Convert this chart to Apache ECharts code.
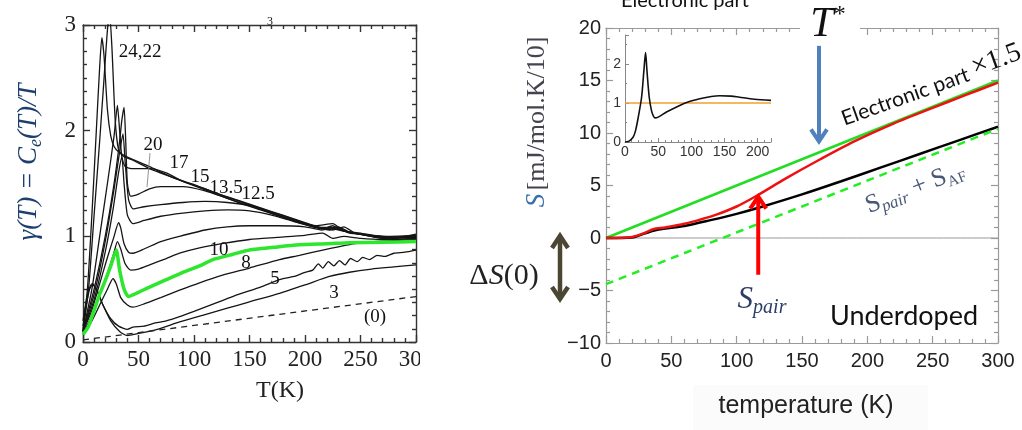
<!DOCTYPE html>
<html><head><meta charset="utf-8">
<script src="https://cdn.jsdelivr.net/npm/echarts@6/dist/echarts.min.js"></script>
<style>html,body{margin:0;padding:0;background:#fff}#c{width:1022px;height:430px}</style>
</head><body><div id="c"></div>
<script>
// ---------- Left panel: gamma(T) = Ce(T)/T curves, [T(K), gamma] ----------
const g24 = [[0,0.12],[4,0.5],[8,1.2],[12,2.0],[15,2.6],[17,2.88],[19,2.7],[22,2.2],[25,1.95],[28,1.85],[32,1.8],[40,1.75],[60,1.66],[80,1.56],[100,1.49],[120,1.41],[140,1.34],[160,1.27],[180,1.2],[200,1.13],[215,1.08],[225,1.07],[235,1.05],[250,1.02],[270,0.98],[285,0.99],[300,1.02]];
const g22 = [[0,0.1],[5,0.5],[10,1.2],[15,1.9],[19,2.5],[22,2.95],[24,3.1],[26,2.8],[29,2.1],[32,1.82],[36,1.76],[45,1.72],[60,1.64],[80,1.56],[100,1.48],[120,1.4],[140,1.32],[160,1.25],[180,1.18],[200,1.11],[215,1.07],[225,1.1],[232,1.06],[245,1.03],[260,1.0],[280,0.98],[300,1.0]];
const g20 = [[0,0.1],[8,0.5],[15,1.0],[22,1.5],[28,1.95],[31,2.24],[33,2.0],[35,1.75],[38,1.66],[45,1.64],[60,1.64],[75,1.6],[90,1.52],[110,1.45],[130,1.37],[150,1.3],[170,1.23],[190,1.16],[210,1.09],[222,1.06],[230,1.09],[240,1.04],[255,1.01],[270,0.99],[300,1.0]];
const g17 = [[0,0.1],[10,0.5],[20,1.0],[28,1.5],[33,1.9],[35,2.1],[37,2.22],[38.5,1.9],[40,1.5],[43,1.38],[50,1.4],[60,1.45],[70,1.47],[90,1.47],[110,1.43],[130,1.36],[150,1.29],[170,1.22],[190,1.15],[210,1.1],[225,1.12],[235,1.05],[250,1.03],[265,0.99],[280,0.97],[300,0.98]];
const g15 = [[0,0.1],[10,0.45],[20,0.95],[28,1.45],[33,1.8],[36,1.97],[38,1.7],[41,1.35],[45,1.26],[55,1.28],[70,1.3],[90,1.32],[110,1.33],[130,1.32],[150,1.29],[170,1.22],[190,1.15],[210,1.09],[225,1.08],[235,1.05],[250,1.02],[270,1.0],[300,0.99]];
const g135 = [[0,0.1],[10,0.4],[20,0.85],[27,1.25],[32,1.6],[35,1.75],[37,1.5],[40,1.2],[45,1.12],[55,1.15],[70,1.19],[90,1.22],[110,1.24],[130,1.25],[150,1.24],[170,1.2],[190,1.14],[205,1.1],[215,1.08],[225,1.06],[235,1.09],[245,1.03],[260,1.01],[280,0.99],[300,1.0]];
const g125 = [[0,0.1],[8,0.3],[15,0.55],[22,0.8],[28,1.0],[32,1.13],[34,1.08],[37,0.93],[41,0.85],[45,0.84],[55,0.88],[70,0.95],[87,1.0],[110,1.06],[130,1.09],[150,1.1],[175,1.1],[200,1.09],[215,1.06],[228,1.09],[240,1.03],[255,1.02],[270,1.0],[300,1.01]];
const g10 = [[0,0.08],[8,0.25],[15,0.45],[22,0.65],[28,0.85],[31,0.95],[34,0.88],[38,0.74],[43,0.68],[50,0.69],[60,0.73],[75,0.79],[87,0.84],[105,0.89],[125,0.93],[150,0.97],[175,0.99],[200,1.01],[216,1.03],[225,0.98],[235,1.0],[250,0.98],[270,0.97],[300,0.98]];
const g8 = [[0,0.07],[8,0.2],[15,0.35],[22,0.5],[27,0.6],[30,0.55],[34,0.42],[40,0.35],[45,0.33],[55,0.36],[70,0.42],[87,0.49],[105,0.56],[125,0.63],[150,0.7],[177,0.78],[195,0.82],[216,0.87],[230,0.9],[245,0.93],[260,0.95],[280,0.96],[300,0.97]];
const g5 = [[0,0.15],[3,0.35],[6,0.5],[9,0.55],[13,0.48],[18,0.35],[25,0.22],[32,0.15],[40,0.12],[45,0.14],[55,0.15],[65,0.18],[75,0.2],[87,0.24],[100,0.29],[120,0.37],[140,0.45],[160,0.52],[177,0.59],[190,0.62],[200,0.66],[207,0.68],[212,0.74],[216,0.7],[221,0.76],[226,0.72],[231,0.77],[236,0.73],[241,0.79],[247,0.76],[252,0.8],[258,0.78],[265,0.82],[272,0.81],[280,0.84],[290,0.85],[300,0.87]];
const g3 = [[0,0.2],[4,0.45],[8,0.55],[12,0.5],[18,0.35],[25,0.2],[33,0.1],[40,0.06],[45,0.07],[55,0.09],[70,0.13],[87,0.19],[110,0.26],[130,0.32],[150,0.38],[177,0.46],[200,0.54],[222,0.62],[240,0.66],[260,0.69],[280,0.71],[300,0.73]];
const g0 = [[0,0.02],[300,0.43]];
const gGreen = [[0,0.07],[5,0.15],[10,0.3],[15,0.45],[20,0.58],[25,0.72],[30,0.87],[33,0.68],[37,0.5],[41,0.43],[50,0.47],[60,0.52],[75,0.59],[90,0.66],[105,0.72],[117,0.78],[135,0.83],[150,0.87],[175,0.9],[195,0.92],[220,0.93],[240,0.94],[270,0.945],[300,0.95]];
const leftXTicks = [0, 50, 100, 150, 200, 250, 300];
const leftYTicks = [0, 1, 2, 3];

// ---------- Right panel: entropy S(T), [T(K), S] ----------
const sElectronic = [[0,0],[300,15]];
const sTotal = [[0,0],[20,0.1],[30,0.5],[36,0.83],[45,1.0],[60,1.35],[72,1.75],[85,2.25],[100,3.0],[115,4.0],[138,5.7],[164,7.5],[190,9.2],[220,10.9],[250,12.4],[275,13.6],[300,14.8]];
const sPairAF = [[0,0],[20,0.05],[30,0.45],[40,0.8],[60,1.15],[80,1.7],[100,2.3],[120,3.0],[150,4.15],[180,5.4],[210,6.7],[240,8.0],[270,9.3],[300,10.6]];
const sShifted = [[0,-4.4],[300,10.4]];
const sZero = [[0,0],[300,0]];
const rightXTicks = [0, 50, 100, 150, 200, 250, 300];
const rightYTicks = [-10, -5, 0, 5, 10, 15, 20];

// ---------- Inset: electronic gamma(T), [T(K), gamma] ----------
const insetGamma = [[0,0],[5,0.01],[9,0.06],[12.5,0.13],[16,0.3],[20,0.64],[25,1.15],[28.5,1.84],[31,2.3],[33,1.85],[36.5,1.15],[40,0.8],[42.5,0.68],[45,0.62],[50,0.64],[62.5,0.77],[82.5,0.94],[95,1.03],[112.6,1.11],[130,1.17],[142.6,1.19],[160,1.18],[172.6,1.15],[195,1.1],[220,1.07]];
const insetRef = [[0,1],[220,1]];
const insetXTicks = [0, 50, 100, 150, 200];
const insetYTicks = [0, 1, 2];

const SERIF = 'Liberation Serif';
const SANS = 'Liberation Sans';
const frameL = {color:'#333', width:1.4};
const frameR = {color:'#9a9a9a', width:1.2};
const minus = v => String(v).replace('-', '\u2212');

function frameAxis(grid, pos, min, max, interval, minorSplit, show, line, lblFont, lblSize, margin, fmt) {
  return {
    type:'value', gridIndex:grid, position:pos, min:min, max:max, interval:interval,
    axisLine:{show:true, onZero:false, lineStyle:line},
    axisTick:{show:true, inside:true, length:7, lineStyle:line},
    minorTick:{show:true, splitNumber:minorSplit, length:4, lineStyle:line},
    splitLine:{show:false}, minorSplitLine:{show:false},
    axisLabel:{show:show, fontFamily:lblFont, fontSize:lblSize, color:'#222', margin:margin, formatter:fmt}
  };
}

const blackL = {color:'#151515', width:1.3};
function leftLine(data, extra) {
  return Object.assign({type:'line', xAxisIndex:0, yAxisIndex:0, data:data, symbol:'none', smooth:0.2,
    lineStyle:Object.assign({}, blackL), z:3, silent:true}, extra || {});
}
function rightLine(data, color, width, dash, z) {
  return {type:'line', xAxisIndex:2, yAxisIndex:2, data:data, symbol:'none', smooth:0.3, silent:true, z:z||3,
    lineStyle:{color:color, width:width, type:dash?[8,6]:'solid'}};
}

const chart = echarts.init(document.getElementById('c'), null, {renderer:'canvas'});
const fmtLX = v => leftXTicks.includes(v) ? String(v) : '';
const fmtLY = v => leftYTicks.includes(v) ? String(v) : '';
const fmtRX = v => rightXTicks.includes(v) ? String(v) : '';
const fmtRY = v => rightYTicks.includes(v) ? minus(v) : '';
const fmtIX = v => insetXTicks.includes(v) ? String(v) : '';
const fmtIY = v => insetYTicks.includes(v) ? String(v) : '';

const option = {
  animation:false,
  backgroundColor:'#fff',
  grid:[
    {left:83, top:25, width:333, height:317},
    {left:606, top:28, width:392, height:315},
    {left:625, top:35, width:146, height:107}
  ],
  xAxis:[
    frameAxis(0,'bottom',0,300,50,5,true,frameL,SERIF,23,6,fmtLX),
    frameAxis(0,'top',0,300,50,5,false,frameL,SERIF,23,6,fmtLX),
    frameAxis(1,'bottom',0,300,50,5,true,frameR,SANS,20,8,fmtRX),
    frameAxis(1,'top',0,300,50,5,false,frameR,SANS,20,8,fmtRX),
    {type:'value', gridIndex:2, min:0, max:220, interval:50,
     axisLine:{show:true, onZero:false, lineStyle:{color:'#888', width:1}},
     axisTick:{show:true, inside:true, length:4, lineStyle:{color:'#888'}},
     minorTick:{show:true, splitNumber:5, length:2, lineStyle:{color:'#888'}},
     splitLine:{show:false},
     axisLabel:{fontFamily:SANS, fontSize:14, color:'#333', margin:3, formatter:fmtIX}}
  ],
  yAxis:[
    frameAxis(0,'left',0,3,1,8,true,frameL,SERIF,23,7,fmtLY),
    frameAxis(0,'right',0,3,1,8,false,frameL,SERIF,23,7,fmtLY),
    frameAxis(1,'left',-10,20,5,5,true,frameR,SANS,20,5,fmtRY),
    frameAxis(1,'right',-10,20,5,5,false,frameR,SANS,20,5,fmtRY),
    {type:'value', gridIndex:2, min:0, max:2.75, interval:1,
     axisLine:{show:true, onZero:false, lineStyle:{color:'#888', width:1}},
     axisTick:{show:true, inside:true, length:4, lineStyle:{color:'#888'}},
     minorTick:{show:true, splitNumber:2, length:2, lineStyle:{color:'#888'}},
     splitLine:{show:false},
     axisLabel:{fontFamily:SANS, fontSize:14, color:'#333', margin:4, formatter:fmtIY}}
  ],
  series:[
    leftLine(g24), leftLine(g22), leftLine(g20), leftLine(g17), leftLine(g15), leftLine(g135),
    leftLine(g125), leftLine(g10), leftLine(g8), leftLine(g5), leftLine(g3),
    leftLine(g0, {smooth:false, lineStyle:{color:'#222', width:1.3, type:[6,5]}}),
    leftLine(gGreen, {z:5, lineStyle:{color:'#2ee62e', width:3.5}}),
    rightLine(sZero, '#999', 1, false, 2),
    rightLine(sElectronic, '#22dd22', 2.5, false, 3),
    rightLine(sPairAF, '#000', 2.5, false, 3),
    rightLine(sTotal, '#ee1111', 2.5, false, 4),
    rightLine(sShifted, '#22ee22', 2.5, true, 3),
    {type:'line', xAxisIndex:4, yAxisIndex:4, data:insetRef, symbol:'none', silent:true, lineStyle:{color:'#f0a030', width:1.5}},
    {type:'line', xAxisIndex:4, yAxisIndex:4, data:insetGamma, symbol:'none', smooth:0.3, silent:true, lineStyle:{color:'#111', width:1.6}}
  ]
};
chart.setOption(option);

// ---------- Annotations ----------
const RIGHT_SERIES = 14;
function px(x, y) { return chart.convertToPixel({seriesIndex:RIGHT_SERIES}, [x, y]); }
const blueTop = px(163, 18.3), blueTip = px(163, 9.2);
const redBot = px(116.5, -3.5), redTip = px(116.5, 3.95);
const dTop = px(0, 0.2), dBot = px(0, -5.8);

function arrowHead(tx, ty, dir, color, w) { // dir: +1 pointing down, -1 pointing up
  return {type:'polyline', z:120, shape:{points:[[tx-8, ty-12*dir],[tx, ty],[tx+8, ty-12*dir]]},
    style:{stroke:color, lineWidth:w, fill:null, lineJoin:'miter'}};
}
function t(x, y, text, font, size, color, extra) {
  return Object.assign({type:'text', x:x, y:y, z:120, style:Object.assign({text:text, fontFamily:font, fontSize:size,
    fill:color, align:'center', verticalAlign:'middle'}, extra || {})});
}
const dx = 560;
const graphics = [
  // left panel text
  {type:'text', x:29, y:162, rotation:Math.PI/2, z:120, style:{
    text:'{g|γ(T) = C}{s|e}{g|(T)/T}', align:'center', verticalAlign:'middle',
    rich:{g:{fontFamily:SERIF, fontStyle:'italic', fontSize:27, fill:'#1d3f6e', lineHeight:32, verticalAlign:'middle'},
          s:{fontFamily:SERIF, fontStyle:'italic', fontSize:18, fill:'#1d3f6e', lineHeight:32, verticalAlign:'bottom'}}}},
  t(280, 391, 'T(K)', SERIF, 24, '#222'),
  t(140, 52, '24,22', SERIF, 19, '#111'),
  t(153, 145, '20', SERIF, 19, '#111'),
  {type:'line', z:120, shape:{x1:150, y1:153, x2:147, y2:187}, style:{stroke:'#777', lineWidth:0.8}},
  t(179, 163, '17', SERIF, 19, '#111'),
  t(200, 177, '15', SERIF, 19, '#111'),
  t(226, 188, '13.5', SERIF, 19, '#111'),
  t(258, 194, '12.5', SERIF, 19, '#111'),
  t(219, 250, '10', SERIF, 19, '#111'),
  t(246, 263, '8', SERIF, 19, '#111'),
  t(275, 279, '5', SERIF, 19, '#111'),
  t(334, 293, '3', SERIF, 19, '#111'),
  t(375, 317, '(0)', SERIF, 19, '#111'),
  t(270, 22, '3', SERIF, 12, '#111'),
  {type:'rect', z:110, shape:{x:420, y:344, width:25, height:32}, style:{fill:'#fff'}},
  // right panel text
  {type:'text', x:537, y:122, rotation:Math.PI/2, z:120, style:{
    text:'{s|S} {t|[mJ/mol.K/10]}', align:'center', verticalAlign:'middle',
    rich:{s:{fontFamily:SERIF, fontStyle:'italic', fontSize:27, fill:'#3b6ea5'},
          t:{fontFamily:SERIF, fontSize:26, fill:'#444450'}}}},
  t(685, 1, 'Electronic part', 'Lato', 20, '#111'),
  {type:'rect', z:110, shape:{x:800, y:16, width:60, height:20}, style:{fill:'#fff'}},
  {type:'text', x:828, y:25, z:120, style:{text:'{a|T}{b|*}', align:'center', verticalAlign:'middle',
    rich:{a:{fontFamily:SERIF, fontStyle:'italic', fontSize:42, fill:'#111', lineHeight:44, verticalAlign:'middle'},
          b:{fontFamily:SERIF, fontSize:24, fill:'#111', lineHeight:44, verticalAlign:'top'}}}},
  {type:'text', x:930, y:82, rotation:0.345, z:120, style:{text:'{a|Electronic part }{b|×1.5}', align:'center', verticalAlign:'middle',
    rich:{a:{fontFamily:'Lato', fontSize:21, fill:'#111', lineHeight:32, verticalAlign:'bottom'},
          b:{fontFamily:SERIF, fontSize:28, fill:'#111', lineHeight:32, verticalAlign:'bottom'}}}},
  {type:'text', x:915, y:188, rotation:0.37, z:120, style:{text:'{a|S}{b|pair}{a| + S}{c|AF}', align:'center', verticalAlign:'middle',
    rich:{a:{fontFamily:SERIF, fontSize:26, fill:'#4a5877', lineHeight:30, verticalAlign:'middle'},
          b:{fontFamily:SERIF, fontStyle:'italic', fontSize:17, fill:'#4a5877', lineHeight:30, verticalAlign:'bottom'},
          c:{fontFamily:SERIF, fontSize:15, fill:'#4a5877', lineHeight:30, verticalAlign:'bottom'}}}},
  {type:'text', x:762, y:300, z:120, style:{text:'{a|S}{b|pair}', align:'center', verticalAlign:'middle',
    rich:{a:{fontFamily:SERIF, fontStyle:'italic', fontSize:31, fill:'#2c3e66', lineHeight:36, verticalAlign:'middle'},
          b:{fontFamily:SERIF, fontStyle:'italic', fontSize:20, fill:'#2c3e66', lineHeight:36, verticalAlign:'bottom'}}}},
  t(904, 316, 'Underdoped', 'Lato', 27, '#111'),
  {type:'text', x:504, y:276, z:120, style:{text:'{a|Δ}{b|S}{a|(0)}', align:'center', verticalAlign:'middle',
    rich:{a:{fontFamily:SERIF, fontSize:30, fill:'#222'}, b:{fontFamily:SERIF, fontStyle:'italic', fontSize:30, fill:'#222'}}}},
  {type:'rect', z:0, shape:{x:693, y:385, width:235, height:45}, style:{fill:'#fbfbfb'}},
  t(806, 406, 'temperature (K)', SANS, 25, '#222'),
  // arrows
  {type:'line', z:120, shape:{x1:blueTop[0], y1:blueTop[1], x2:blueTip[0], y2:blueTip[1]-2}, style:{stroke:'#4f81bd', lineWidth:4}},
  arrowHead(blueTip[0], blueTip[1], 1, '#4f81bd', 4),
  {type:'line', z:120, shape:{x1:redBot[0], y1:redBot[1], x2:redTip[0], y2:redTip[1]+2}, style:{stroke:'#ff0000', lineWidth:4}},
  arrowHead(redTip[0], redTip[1], -1, '#ff0000', 4),
  {type:'line', z:120, shape:{x1:dx, y1:dTop[1]+2, x2:dx, y2:dBot[1]-2}, style:{stroke:'#4b4633', lineWidth:4.5}},
  arrowHead(dx, dTop[1], -1, '#4b4633', 4.5),
  arrowHead(dx, dBot[1], 1, '#4b4633', 4.5)
];
chart.setOption({graphic:{elements:graphics}});
</script>
</body></html>
